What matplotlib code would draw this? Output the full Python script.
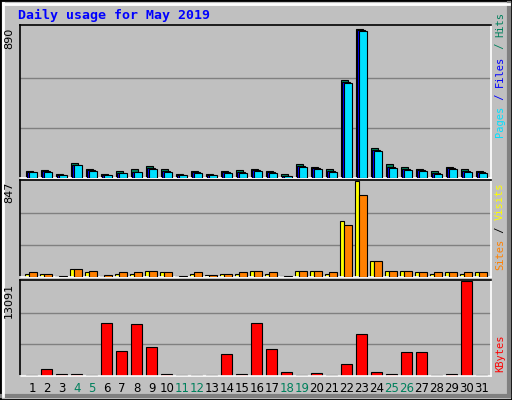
import matplotlib
matplotlib.use("Agg")
import matplotlib.pyplot as plt
import numpy as np

days = list(range(1, 32))
weekend = [4, 5, 11, 12, 18, 19, 25, 26]
hits = [44,50,26,87,56,26,44,56,74,56,26,44,26,44,50,56,44,26,81,68,56,582,890,177,81,68,56,44,68,56,44]
files = [36,40,18,78,46,18,32,36,58,40,18,34,18,34,34,46,34,14,70,58,40,570,884,165,64,52,46,30,58,42,34]
pages = [34,38,16,75,44,16,28,34,56,38,16,32,16,32,32,44,32,10,68,56,38,564,878,159,62,50,44,26,56,38,32]
visits = [31,31,9,67,40,9,31,31,49,40,9,31,21,31,31,49,31,9,49,49,31,499,847,141,49,49,40,31,40,31,40]
sites = [40,31,9,67,49,18,40,40,49,40,9,40,21,31,40,49,40,9,49,49,40,462,728,141,49,49,40,40,40,40,40]
kbytes = [150,908,335,335,150,7361,3489,7218,4063,335,150,150,150,3059,335,7361,3776,621,150,478,150,1625,5784,621,335,3346,3346,150,335,13091,150]

bg = "#C0C0C0"
fig = plt.figure(figsize=(5.12, 4.0), dpi=100, facecolor=bg)
mono = "DejaVu Sans Mono"
x = np.array(days, dtype=float)

def mkax(top, bot):
    ax = fig.add_axes([20/512, 1-bot/400, 471/512, (bot-top)/400])
    ax.set_facecolor(bg)
    ax.set_xlim(0.1, 31.5)
    ax.set_xticks([]); ax.set_yticks([])
    ax.spines['top'].set_color('black'); ax.spines['left'].set_color('black')
    ax.spines['right'].set_color('white'); ax.spines['bottom'].set_color('white')
    for s in ax.spines.values(): s.set_linewidth(1.2)
    return ax

def bars(ax, vals, l, r, color, z):
    ax.bar(x + l, vals, width=r - l, align='edge', color=color, edgecolor='black', linewidth=0.8, zorder=z)

ax1 = mkax(25, 178)
m1 = max(hits)
ax1.set_ylim(0, m1 * 1.025)
for f in (1/3, 2/3):
    ax1.axhline(m1 * f, color='#808080', lw=1, zorder=1)
bars(ax1, hits, -0.53, -0.02, '#00805C', 2)
bars(ax1, files, -0.42, 0.10, '#0000FF', 3)
bars(ax1, pages, -0.3, 0.22, '#00E0FF', 4)

ax2 = mkax(180, 277)
m2 = max(visits)
ax2.set_ylim(0, m2 * 1.015)
for f in (1/3, 2/3):
    ax2.axhline(m2 * f, color='#808080', lw=1, zorder=1)
bars(ax2, visits, -0.55, -0.27, '#FFFF00', 2)
bars(ax2, sites, -0.27, 0.22, '#FF8000', 3)

ax3 = mkax(280, 376)
m3 = max(kbytes)
ax3.set_ylim(0, m3 * 1.015)
for f in (1/3, 2/3):
    ax3.axhline(m3 * f, color='#808080', lw=1, zorder=1)
bars(ax3, kbytes, -0.48, 0.22, '#FF0000', 2)

for d in days:
    ax3.text(d - 0.1, -0.06, str(d), transform=ax3.get_xaxis_transform(), ha='center', va='top',
             fontsize=8.5, color='#00805C' if d in weekend else 'black', family='DejaVu Sans')

fig.text(9/512, 1-28/400, "890", rotation=90, ha='center', va='top', fontsize=8, family='DejaVu Sans')
fig.text(9/512, 1-182/400, "847", rotation=90, ha='center', va='top', fontsize=8, family='DejaVu Sans')
fig.text(9/512, 1-283/400, "13091", rotation=90, ha='center', va='top', fontsize=8, family='DejaVu Sans')

fs = 7.5
cw = 0.602 * fs * 100 / 72
def vstack(parts, ybottom):
    y = ybottom
    for t, c in parts:
        fig.text(500/512, 1-y/400, t, rotation=90, ha='center', va='bottom', fontsize=fs,
                 color=c, family=mono)
        y -= len(t) * cw

vstack([("Pages", '#00E0FF'), (" / ", '#0000FF'), ("Files", '#0000FF'), (" / ", '#00805C'), ("Hits", '#00805C')], 137)
vstack([("Sites", '#FF8000'), (" / ", 'black'), ("Visits", '#FFFF00')], 270)
vstack([("KBytes", '#FF0000')], 372)

fig.text(18/512, 1-15/400, "Daily usage for May 2019", ha='left', va='center', fontsize=9.5,
         color='#0000FF', family=mono, fontweight='bold')

from matplotlib.patches import Rectangle
fig.patches.append(Rectangle((0, 0), 1, 1, transform=fig.transFigure, fill=False, edgecolor='black', lw=2))
fig.add_artist(plt.Line2D([2/512, 509/512], [4/400, 4/400], color='#808080', lw=3, transform=fig.transFigure))
fig.add_artist(plt.Line2D([509/512, 509/512], [4/400, 397/400], color='#808080', lw=3, transform=fig.transFigure))
fig.add_artist(plt.Line2D([3/512, 3/512], [4/400, 397/400], color='white', lw=2, transform=fig.transFigure))
fig.add_artist(plt.Line2D([3/512, 509/512], [396/400, 396/400], color='white', lw=2, transform=fig.transFigure))

fig.savefig("out.png", dpi=100, facecolor=bg)
